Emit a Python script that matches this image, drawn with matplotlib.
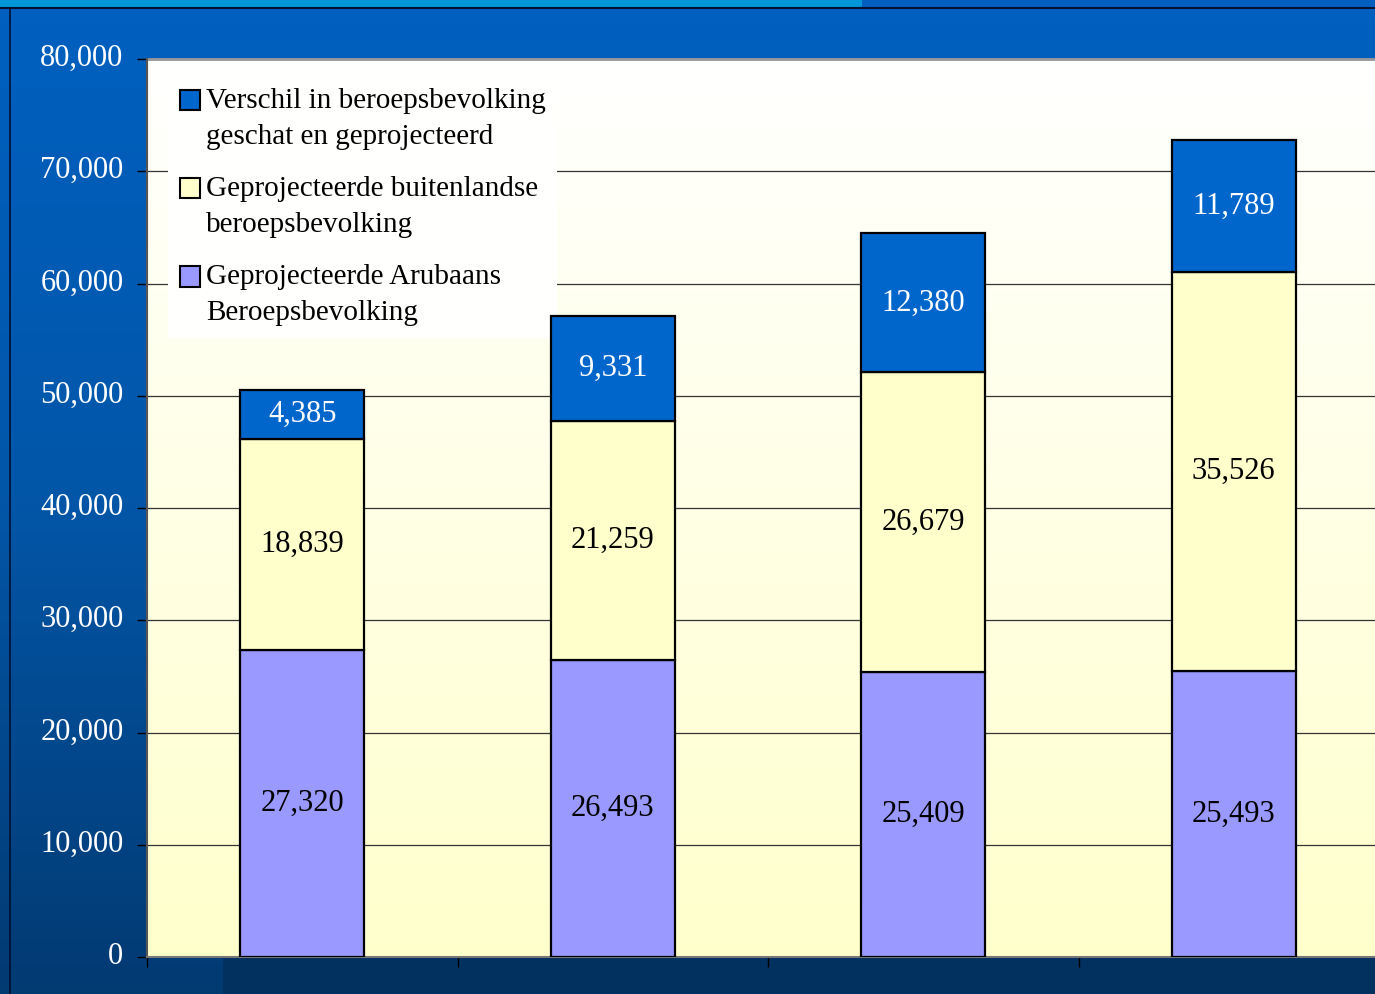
import matplotlib
matplotlib.use("Agg")
import matplotlib.pyplot as plt
import matplotlib.transforms as mtransforms
import numpy as np
from matplotlib.patches import Rectangle, Patch
from matplotlib.colors import LinearSegmentedColormap
from matplotlib.ticker import FuncFormatter, MultipleLocator
from matplotlib.legend_handler import HandlerPatch

plt.rcParams['font.family'] = ['Liberation Serif', 'DejaVu Serif']

categories = ["", "", "", ""]
arubaans = [27320, 26493, 25409, 25493]
buitenlands = [18839, 21259, 26679, 35526]
verschil = [4385, 9331, 12380, 11789]
labels = ["Verschil in beroepsbevolking\ngeschat en geprojecteerd",
          "Geprojecteerde buitenlandse\nberoepsbevolking",
          "Geprojecteerde Arubaans\nBeroepsbevolking"]
colors = ["#0066CC", "#FFFFCC", "#9999FF"]

FS = 22
W, H = 1375, 994
fig = plt.figure(figsize=(W / 100, H / 100), dpi=100)

# slide background
bg = fig.add_axes([0, 0, 1, 1], zorder=-10)
bg.set_axis_off()
bg.set_xlim(0, W)
bg.set_ylim(H, 0)
cmap_bg = LinearSegmentedColormap.from_list("bg", ["#0060C0", "#0256A8", "#023A72"])
grad = np.linspace(0, 1, 256).reshape(-1, 1)
bg.imshow(grad, cmap=cmap_bg, extent=[0, W, H, 0], aspect="auto")
bg.add_patch(Rectangle((0, 0), 862, 7, color="#0096DA", lw=0))
bg.plot([0, W], [7.5, 7.5], color="#001030", lw=1.5)
bg.plot([10.5, 10.5], [7.5, H], color="#001030", lw=1.2)
bg.add_patch(Rectangle((223, 958), W - 223, H - 958, color="#02305F", lw=0))

ax = fig.add_axes([147 / W, (H - 957) / H, 1242 / W, 898 / H])
x = np.arange(len(categories))

# plot-area gradient (white at top, pale yellow at bottom)
cmap_pa = LinearSegmentedColormap.from_list("pa", ["#FFFFFF", "#FFFFCC"])
ax.imshow(grad, cmap=cmap_pa, extent=[-0.5, 3.5, 0, 80000], origin="upper",
          aspect="auto", zorder=0)
ax.set_xlim(-0.5, 3.5)
ax.set_ylim(0, 80000)

ax.yaxis.set_major_locator(MultipleLocator(10000))
ax.grid(axis="y", color="#333333", lw=0.9, zorder=1)
ax.set_axisbelow(True)

bw = 0.4
bottoms = np.zeros(4)
for vals, col in [(arubaans, colors[2]), (buitenlands, colors[1]), (verschil, colors[0])]:
    ax.bar(x, vals, bw, bottom=bottoms, color=col, edgecolor="black", lw=1.6, zorder=3)
    for xi, b, v in zip(x, bottoms, vals):
        ax.text(xi, b + v / 2, f"{v:,}", ha="center", va="center", fontsize=FS,
                color="white" if col == colors[0] else "black", zorder=4)
    bottoms = bottoms + np.array(vals)

ax.set_xticks([-0.5, 0.5, 1.5, 2.5, 3.5])
ax.set_xticklabels([])
ax.yaxis.set_major_formatter(FuncFormatter(lambda v, p: f"{int(v):,}"))
ax.tick_params(axis="y", length=7, width=1, color="black", labelcolor="white",
               labelsize=FS, pad=10)
ax.tick_params(axis="x", length=7, width=1, color="black")
shift = mtransforms.ScaledTranslation(0, 3 / 72, fig.dpi_scale_trans)
for lab in ax.get_yticklabels():
    lab.set_transform(lab.get_transform() + shift)
for s in ["top", "right"]:
    ax.spines[s].set_visible(False)
ax.spines["left"].set_color("#555555")
ax.spines["bottom"].set_color("#777777")
ax.spines["left"].set_linewidth(1.5)
ax.spines["bottom"].set_linewidth(1.5)
ax.axhline(80000, color="#999999", lw=2, zorder=2, clip_on=False)


def top_square(legend, orig_handle, xdescent, ydescent, width, height, fontsize):
    return Rectangle((-xdescent, -ydescent + 13.3), width, height)


handles = [Patch(facecolor=c, edgecolor="black", lw=1.5) for c in colors]
leg = ax.legend(handles, labels, loc="upper left",
                bbox_to_anchor=(168 / W, 1 - 76 / H), bbox_transform=fig.transFigure,
                fontsize=21, frameon=True, facecolor="#FFFFFE", edgecolor="none",
                framealpha=1, fancybox=False, handlelength=0.7, handleheight=0.7,
                handletextpad=0.2, labelspacing=0.9, borderpad=0.4, borderaxespad=0,
                handler_map={Patch: HandlerPatch(patch_func=top_square)})
for t in leg.get_texts():
    t.set_linespacing(1.5)
leg.set_zorder(2.5)

fig.savefig("out.png", dpi=100)
